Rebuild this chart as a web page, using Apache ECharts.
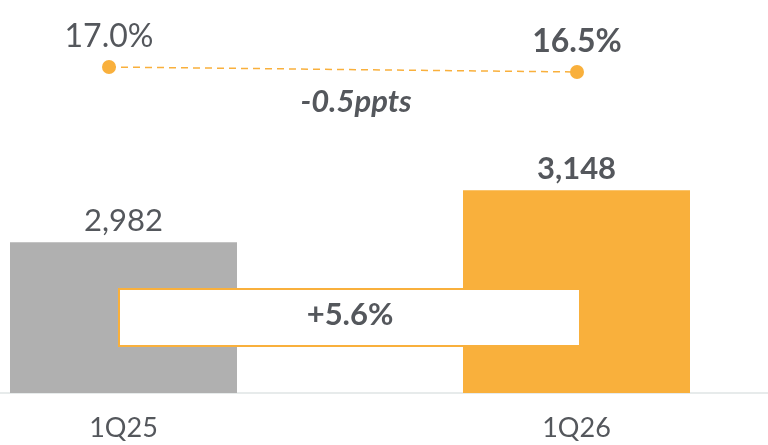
<!DOCTYPE html>
<html>
<head>
<meta charset="utf-8">
<script src="https://cdn.jsdelivr.net/npm/echarts@6/dist/echarts.min.js"></script>
<style>
  html, body { margin: 0; padding: 0; background: #fff; }
  #chart { width: 768px; height: 445px; }
</style>
</head>
<body>
<div id="chart"></div>
<script>
// 数据
var categories = ['1Q25', '1Q26'];
var revenue = [2982, 3148];
var margin = [17.0, 16.5];
var growthLabel = '+5.6%';
var marginDelta = '-0.5ppts';

var textColor = '#54575c';
var orange = '#f9b03c';
var grey = '#b0b0b0';
var font = 'Lato';

var chart = echarts.init(document.getElementById('chart'));

chart.setOption({
    animation: false,
    textStyle: { fontFamily: font },
    grid: [
        /* 柱子 */
        { left: -103, width: 906, top: 174, bottom: 52, outerBoundsMode: 'none', containLabel: false },
        /* 上面的折线 */
        { left: -125, width: 936, top: 57, height: 20, outerBoundsMode: 'none', containLabel: false }
    ],
    xAxis: [
        {
            type: 'category',
            gridIndex: 0,
            data: categories,
            axisTick: { show: false },
            axisLine: { lineStyle: { color: '#dfe4e4', width: 1.5 } },
            axisLabel: { color: textColor, fontSize: 27, margin: 22, fontFamily: font }
        },
        {
            type: 'category',
            gridIndex: 1,
            data: categories,
            show: false
        }
    ],
    yAxis: [
        { type: 'value', gridIndex: 0, min: 2500, max: 3200, show: false },
        { type: 'value', gridIndex: 1, min: 16, max: 18, show: false }
    ],
    series: [
        {
            type: 'bar',
            xAxisIndex: 0,
            yAxisIndex: 0,
            barWidth: 227,
            data: revenue.map(function (v, i) {
                return {
                    value: v,
                    itemStyle: { color: i === 0 ? grey : orange },
                    label: { fontWeight: i === 0 ? 'normal' : 'bold' }
                };
            }),
            label: {
                show: true,
                position: 'top',
                distance: 6,
                color: textColor,
                fontSize: 31,
                fontFamily: font,
                formatter: function (p) { return p.value.toLocaleString('en-US'); }
            }
        },
        {
            type: 'line',
            xAxisIndex: 1,
            yAxisIndex: 1,
            symbol: 'circle',
            symbolSize: 14,
            itemStyle: { color: orange },
            lineStyle: { color: orange, width: 1.5, type: [7, 5] },
            data: margin.map(function (v, i) {
                return { value: v, label: { fontWeight: i === 0 ? 'normal' : 'bold' } };
            }),
            label: {
                show: true,
                position: 'top',
                distance: 7,
                color: textColor,
                fontSize: 32,
                fontFamily: font,
                formatter: function (p) { return p.value.toFixed(1) + '%'; }
            }
        }
    ],
    graphic: [
        {
            type: 'rect',
            z: 100,
            shape: { x: 119, y: 289, width: 461, height: 57 },
            style: { fill: '#fff', stroke: orange, lineWidth: 2 }
        },
        {
            type: 'text',
            z: 101,
            x: 350,
            y: 315,
            style: {
                text: growthLabel,
                fill: textColor,
                font: 'bold 31px ' + font,
                align: 'center',
                verticalAlign: 'middle'
            }
        },
        {
            type: 'text',
            z: 101,
            x: 356,
            y: 102,
            style: {
                text: marginDelta,
                fill: textColor,
                font: 'italic bold 31px ' + font,
                align: 'center',
                verticalAlign: 'middle'
            }
        }
    ]
});
</script>
</body>
</html>
